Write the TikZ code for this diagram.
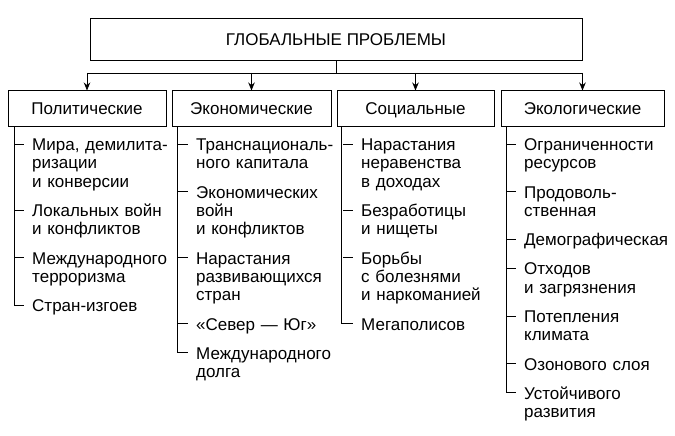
\documentclass[tikz,border=0pt]{standalone}
\usepackage{fontspec}
\setmainfont{Liberation Sans}
\usetikzlibrary{arrows.meta}
\tikzset{
    every node/.style={inner sep=0pt, font=\fontsize{17}{18.4}\selectfont},
    box/.style={draw, line width=1pt, minimum height=35pt, text height=12pt, text depth=1pt},
    item/.style={anchor=base west, text width=160pt, align=left},
    link/.style={line width=0.9pt},
    arr/.style={link, -{Stealth[length=8pt,width=6.5pt]}}
}

\begin{document}
\begin{tikzpicture}[x=1pt, y=-1pt]
\useasboundingbox (0,0) rectangle (675,436);

\node[box, minimum width=492pt, minimum height=42pt] at (336,40) (top) {ГЛОБАЛЬНЫЕ ПРОБЛЕМЫ};
\coordinate (bus) at (336,73);

\node[box, minimum width=158pt] at (87,108.5) (pol) {Политические};
\node[box, minimum width=159pt] at (251.5,108.5) (eco) {Экономические};
\node[box, minimum width=157pt] at (415.5,108.5) (soc) {Социальные};
\node[box, minimum width=163pt] at (582.5,108.5) (env) {Экологические};

\draw[link] (top) -- (bus);
\draw[link] (pol.north |- bus) -- (env.north |- bus);
\foreach \n in {pol,eco,soc,env}
    \draw[arr] (\n.north |- bus) -- (\n);

% political
\node[item] at (32,150.5) (p1) {Мира, демилита-\\ризации\\и конверсии};
\node[item] at (32,216.5) (p2) {Локальных войн\\и конфликтов};
\node[item] at (32,264.1) (p3) {Международного\\терроризма};
\node[item] at (32,311.7) (p4) {Стран-изгоев};

% economic
\node[item] at (196,150.5) (e1) {Транснациональ-\\ного капитала};
\node[item] at (196,198.1) (e2) {Экономических\\войн\\и конфликтов};
\node[item] at (196,264.1) (e3) {Нарастания\\развивающихся\\стран};
\node[item] at (196,330.1) (e4) {«Север — Юг»};
\node[item] at (196,359.3) (e5) {Международного\\долга};

% social
\node[item] at (361,150.5) (s1) {Нарастания\\неравенства\\в доходах};
\node[item] at (361,216.5) (s2) {Безработицы\\и нищеты};
\node[item] at (361,264.1) (s3) {Борьбы\\с болезнями\\и наркоманией};
\node[item] at (361,330.1) (s4) {Мегаполисов};

% ecological
\node[item] at (524,150.5) (g1) {Ограниченности\\ресурсов};
\node[item] at (524,198.1) (g2) {Продоволь-\\ственная};
\node[item] at (524,245.7) (g3) {Демографическая};
\node[item] at (524,274.9) (g4) {Отходов\\и загрязнения};
\node[item] at (524,322.5) (g5) {Потепления\\климата};
\node[item] at (524,370.1) (g6) {Озонового слоя};
\node[item] at (524,399.3) (g7) {Устойчивого\\развития};

% trunks and ticks
\draw[link] ([xshift=7pt]pol.south west) |- ([xshift=-8pt,yshift=6.5pt]p4.base west);
\draw[link] ([xshift=6pt]eco.south west) |- ([xshift=-8pt,yshift=6.5pt]e5.base west);
\draw[link] ([xshift=5pt]soc.south west) |- ([xshift=-8pt,yshift=6.5pt]s4.base west);
\draw[link] ([xshift=6pt]env.south west) |- ([xshift=-8pt,yshift=6.5pt]g7.base west);
\foreach \n in {p1,p2,p3,e1,e2,e3,e4,s1,s2,s3,g1,g2,g3,g4,g5,g6}
    \draw[link] ([xshift=-18pt,yshift=6.5pt]\n.base west) -- ([xshift=-8pt,yshift=6.5pt]\n.base west);
\end{tikzpicture}
\end{document}
